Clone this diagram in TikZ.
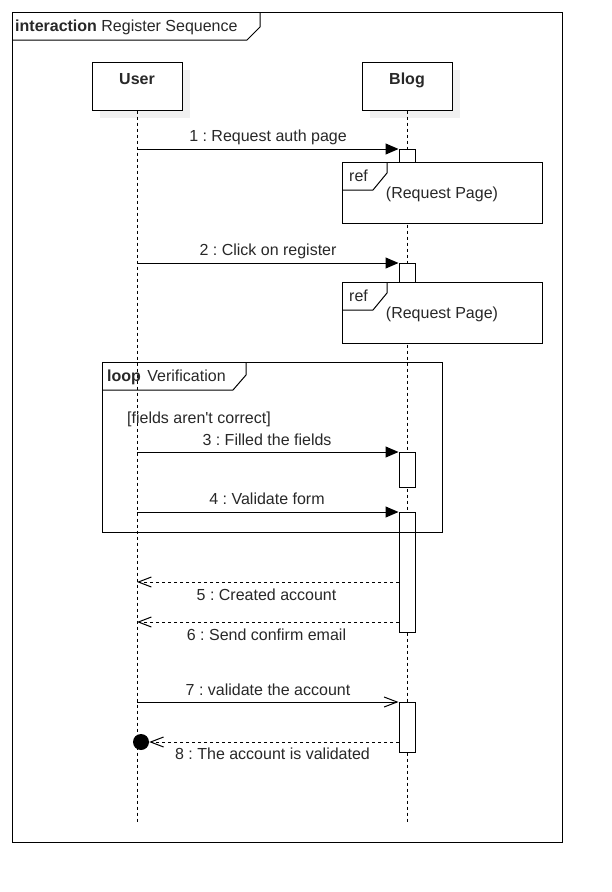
\documentclass[tikz,border=0pt]{standalone}
\usepackage{fontspec}
\setmainfont{Liberation Sans}
\usetikzlibrary{arrows.meta}
\definecolor{txt}{RGB}{40,40,40}
\definecolor{shadowgray}{RGB}{240,240,240}
\tikzset{
  frame/.style={draw=black, line width=1pt, rectangle, inner sep=0pt, anchor=north west},
  actorbox/.style={draw=black, fill=white, line width=1pt, rectangle, inner sep=0pt, minimum width=90pt, minimum height=48pt},
  actbox/.style={draw=black, fill=white, line width=1pt, rectangle, inner sep=0pt, minimum width=16pt, anchor=north},
  refbox/.style={draw=black, fill=white, line width=1pt, rectangle, inner sep=0pt, minimum width=200pt, minimum height=61pt, anchor=north west},
  lifeline/.style={draw=black, line width=1pt, dash pattern=on 3pt off 3pt},
  callmsg/.style={draw=black, line width=1pt, -{Triangle[length=13pt,width=11pt]}},
  openmsg/.style={draw=black, line width=1pt, -{Straight Barb[length=13pt,width=10pt]}},
  retmsg/.style={draw=black, line width=1pt, dash pattern=on 3pt off 3pt, -{Straight Barb[length=13pt,width=10pt,line width=1pt]}},
  tab/.style={draw=black, line width=1pt},
  lbl/.style={text=txt, inner sep=0pt, anchor=base},
  lblw/.style={text=txt, inner sep=0pt, anchor=base west},
}
\begin{document}
\frenchspacing
\begin{tikzpicture}[x=1pt,y=-1pt, font=\fontsize{16}{19}\selectfont\frenchspacing]
\fill[white] (0,0) rectangle (612,892);
\useasboundingbox (0,0) rectangle (612,892);

% outer frame
\node[frame, minimum width=550pt, minimum height=830pt] (outer) at (12,12) {};
\draw[tab] (260,12) -- (260,27) -- (247,40) -- (12,40);
\node[lblw] (title) at (15,31) {\textbf{interaction} Register Sequence};

% shadows
\fill[shadowgray] (100,70) rectangle (190,118);
\fill[shadowgray] (370,70) rectangle (460,118);

% actors
\node[actorbox] (user) at (137,86) {};
\node[actorbox] (blog) at (407,86) {};
\node[lbl, font=\fontsize{16}{19}\selectfont\bfseries] (usert) at (137,84) {User};
\node[lbl, font=\fontsize{16}{19}\selectfont\bfseries] (blogt) at (407,84) {Blog};

% lifelines
\coordinate (userend) at (137,822);
\coordinate (blogend) at (407,822);
\draw[lifeline] (user.south) -- (userend);
\draw[lifeline] (blog.south) -- (blogend);

% activations
\node[actbox, minimum height=13pt] (a1) at (407,149) {};
\node[actbox, minimum height=19pt] (a2) at (407,263) {};
\node[actbox, minimum height=35pt] (a3) at (407,452) {};
\node[actbox, minimum height=120pt] (a4) at (407,512) {};
\node[actbox, minimum height=50pt] (a7) at (407,702) {};

% ref boxes
\node[refbox] (r1) at (342,162) {};
\draw[tab] (387,162) -- (387,173) -- (373,190) -- (342,190);
\node[lblw] (r1t) at (349,181) {ref};
\node[lbl] (r1c) at (442,198) {(Request Page)};

\node[refbox] (r2) at (342,282) {};
\draw[tab] (387,282) -- (387,293) -- (373,310) -- (342,310);
\node[lblw] (r2t) at (349,301) {ref};
\node[lbl] (r2c) at (442,318) {(Request Page)};

% loop frame
\node[frame, minimum width=340pt, minimum height=170pt] (loop) at (102,362) {};
\draw[tab] (246,362) -- (246,375) -- (233,390) -- (102,390);
\node[lblw] (loopt) at (107,381) {\textbf{loop}\hspace{2pt} Verification};
\node[lblw] (guard) at (127,423) {[fields aren\textquotesingle t correct]};

% messages
\coordinate (m1u) at (137,149);
\draw[callmsg] (m1u) -- (a1.north west);
\node[lbl] (m1l) at (268,141) {1 : Request auth page};

\coordinate (m2u) at (137,263);
\draw[callmsg] (m2u) -- (a2.north west);
\node[lbl] (m2l) at (268,255) {2 : Click on register};

\coordinate (m3u) at (137,452);
\draw[callmsg] (m3u) -- (a3.north west);
\node[lbl] (m3l) at (267,445) {3 : Filled the fields};

\coordinate (m4u) at (137,512);
\draw[callmsg] (m4u) -- (a4.north west);
\node[lbl] (m4l) at (267,504) {4 : Validate form};

\coordinate (m5b) at (399,582);
\coordinate (m5u) at (137,582);
\draw[retmsg] (m5b) -- (m5u);
\node[lbl] (m5l) at (266.5,600) {5 : Created account};

\coordinate (m6b) at (399,622);
\coordinate (m6u) at (137,622);
\draw[retmsg] (m6b) -- (m6u);
\node[lbl] (m6l) at (266.5,640) {6 : Send confirm email};

\coordinate (m7u) at (137,702);
\draw[openmsg] (m7u) -- (a7.north west);
\node[lbl] (m7l) at (268,695) {7 : validate the account};

\node[circle, fill=black, minimum size=16pt, inner sep=0pt] (lost) at (141,742) {};
\coordinate (m8b) at (399,742);
\draw[retmsg] (m8b) -- (lost.east);
\node[lbl] (m8l) at (272.5,759) {8 : The account is validated};
\end{tikzpicture}
\end{document}
